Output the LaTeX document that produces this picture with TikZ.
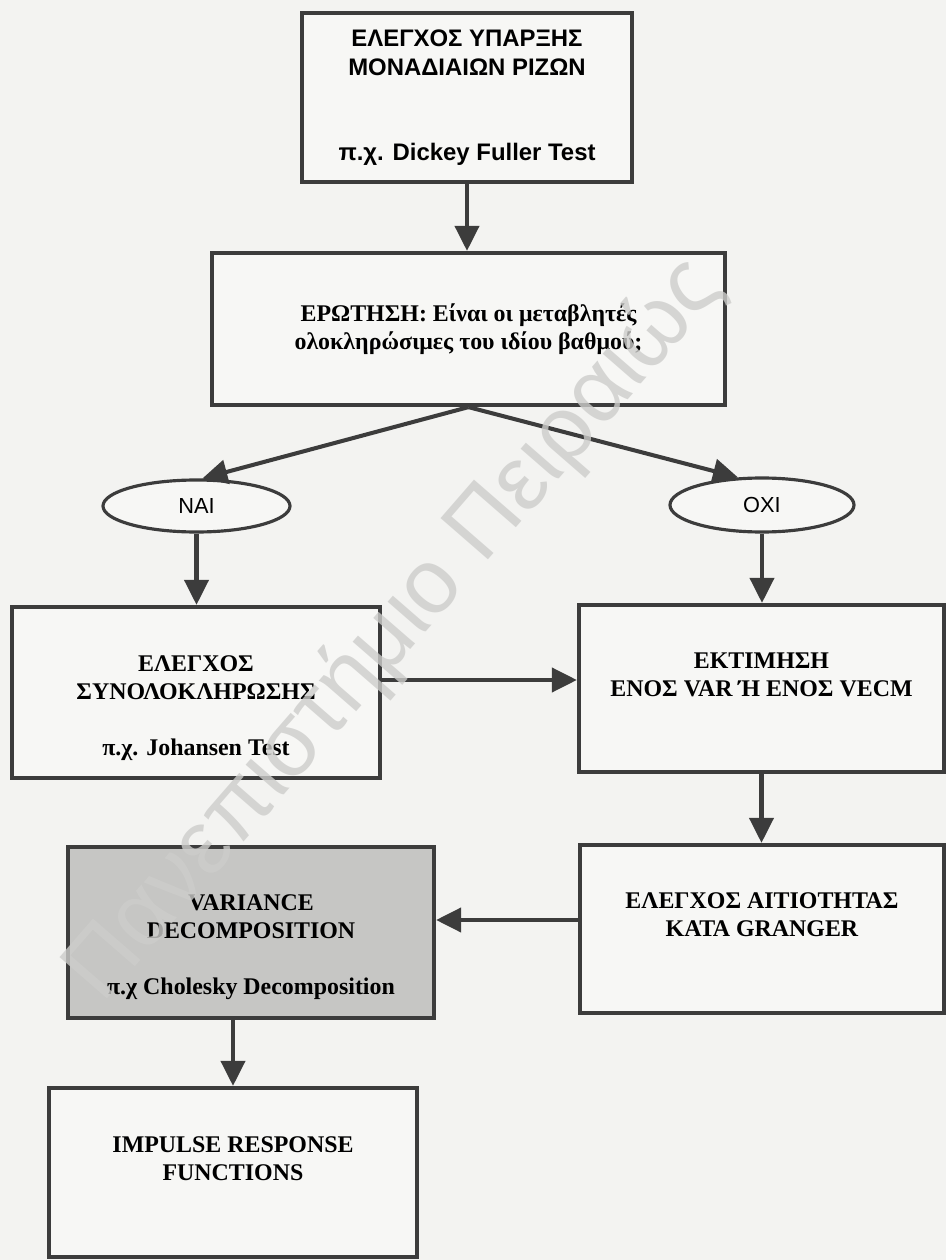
\documentclass[tikz,border=0pt]{standalone}
\usepackage{fontspec}
\setmainfont{Liberation Serif}
\newfontfamily\arialfont{Liberation Sans}
\usetikzlibrary{shapes.geometric,arrows.meta}

\definecolor{paper}{HTML}{F3F3F1}
\definecolor{boxfill}{HTML}{F7F7F5}
\definecolor{shade}{HTML}{C6C6C4}
\definecolor{ink}{HTML}{3C3C3C}
\definecolor{stampgray}{HTML}{CDCDCB}

\begin{document}
\begin{tikzpicture}[
    box/.style={draw=ink, line width=1.2pt, fill=boxfill, align=center, inner sep=0pt,
        font=\bfseries\fontsize{6.8}{8}\selectfont},
    answer/.style={ellipse, draw=ink, line width=0.9pt, fill=boxfill, inner sep=0pt,
        font=\arialfont\fontsize{6.2}{7}\selectfont},
    arr/.style={draw=ink, line width=1.15pt, -{Triangle[length=2.5mm,width=2.4mm]}}
]
    % Page
    \useasboundingbox (0,0) rectangle (9.46,12.6);
    \fill[paper] (0,0) rectangle (9.46,12.6);

    % Boxes
    \node[box, minimum width=3.30cm, minimum height=1.69cm,
        font=\arialfont\bfseries\fontsize{6.8}{8.25}\selectfont] (b1) at (4.67,11.625)
        {ΕΛΕΓΧΟΣ ΥΠΑΡΞΗΣ\\ΜΟΝΑΔΙΑΙΩΝ ΡΙΖΩΝ\\[16pt]π.χ. Dickey Fuller Test};
    \node[box, minimum width=5.13cm, minimum height=1.52cm] (b2) at (4.685,9.31)
        {ΕΡΩΤΗΣΗ: Είναι οι μεταβλητές\\ολοκληρώσιμες του ιδίου βαθμού;};
    \node[answer, minimum width=1.87cm, minimum height=0.52cm] (nai) at (1.965,7.54) {NAI};
    \node[answer, minimum width=1.84cm, minimum height=0.54cm] (oxi) at (7.62,7.55) {OXI};
    \node[box, minimum width=3.68cm, minimum height=1.71cm] (b3) at (1.96,5.675)
        {\mbox{}\\[5.5pt]ΕΛΕΓΧΟΣ\\ΣΥΝΟΛΟΚΛΗΡΩΣΗΣ\\[7.8pt]π.χ. Johansen Test};
    \node[box, minimum width=3.65cm, minimum height=1.67cm] (b4) at (7.615,5.715)
        {ΕΚΤΙΜΗΣΗ\\ΕΝΟΣ VAR Ή ΕΝΟΣ VECM\\\mbox{}};
    \node[box, minimum width=3.64cm, minimum height=1.68cm] (b5) at (7.62,3.31)
        {ΕΛΕΓΧΟΣ ΑΙΤΙΟΤΗΤΑΣ\\ΚΑΤΑ GRANGER\\\mbox{}};
    \node[box, fill=shade, minimum width=3.66cm, minimum height=1.71cm] (b6) at (2.51,3.275)
        {\mbox{}\\[5pt]VARIANCE\\DECOMPOSITION\\[8pt]π.χ Cholesky Decomposition};
    \node[box, minimum width=3.68cm, minimum height=1.69cm] (b7) at (2.33,0.875)
        {IMPULSE RESPONSE\\FUNCTIONS\\\mbox{}};

    % Arrows
    \draw[arr] (b1.south) -- (b1.south |- b2.north);
    \draw[arr] (b2.south) -- (nai.78);
    \draw[arr] (b2.south) -- (oxi.131);
    \draw[arr] (nai.south) -- (nai.south |- b3.north);
    \draw[arr] (oxi.south) -- (oxi.south |- b4.north);
    \draw[arr] ([yshift=1.25mm]b3.east) -- ([yshift=1.25mm]b3.east -| b4.west);
    \draw[arr] (b4.south) -- (b4.south |- b5.north);
    \draw[arr] ([yshift=0.9mm]b5.west) -- ([yshift=0.9mm]b5.west -| b6.east);
    \draw[arr] (b7.north |- b6.south) -- (b7.north);

    % Watermark
    \node[rotate=49, text=stampgray, opacity=0.8,
        font=\arialfont\fontsize{26}{26}\selectfont] (stamp) at (3.95,6.3)
        {Πανεπιστήμιο Πειραιώς};
\end{tikzpicture}
\end{document}
